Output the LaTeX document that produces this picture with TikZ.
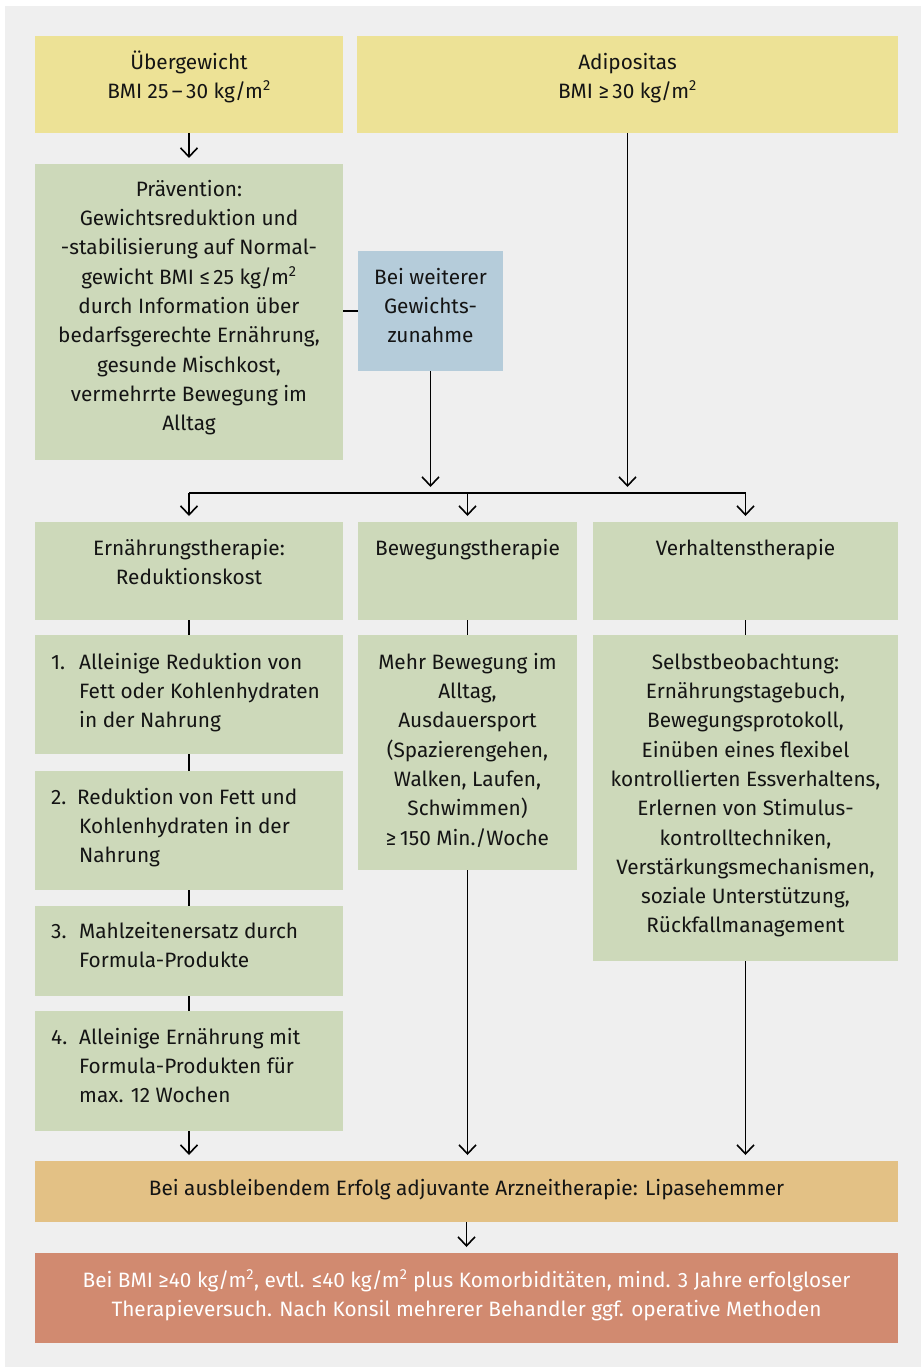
\documentclass[tikz,border=0pt]{standalone}
\usepackage{fontspec}
\setmainfont{Fira Sans}
\usetikzlibrary{arrows.meta}
\definecolor{bgc}{HTML}{EFEFEF}
\definecolor{yelc}{HTML}{EDE296}
\definecolor{grnc}{HTML}{CDD9BA}
\definecolor{bluc}{HTML}{B5CCDA}
\definecolor{orac}{HTML}{E3C185}
\definecolor{redc}{HTML}{D18A70}
\definecolor{txtc}{HTML}{141414}
\begin{document}
\begin{tikzpicture}[x=1pt,y=-1pt,
  box/.style={draw=none, inner sep=0pt, outer sep=0pt, anchor=north west},
  txt/.style={anchor=north, align=center, inner sep=0pt, text=txtc, font=\fontsize{20.8}{29.3}\selectfont},
  lst/.style={anchor=north west, inner sep=0pt, text=txtc, font=\fontsize{20.8}{29.3}\selectfont},
  conn/.style={line width=1.6pt, draw=black},
  arr/.style={conn, -{Straight Barb[length=9pt,width=17pt,line width=1.6pt]}}
]
\useasboundingbox (0,0) rectangle (921,1367);
\fill[white] (0,0) rectangle (921,1367);
\fill[bgc] (5,6) rectangle (921,1367);

% boxes
\node[box, fill=yelc, minimum width=308pt, minimum height=97pt] (ueb) at (35,36) {};
\node[box, fill=yelc, minimum width=541pt, minimum height=97pt] (adi) at (357,36) {};
\node[box, fill=grnc, minimum width=308pt, minimum height=296pt] (prae) at (35,164) {};
\node[box, fill=bluc, minimum width=145pt, minimum height=120pt] (blue) at (358,251) {};
\node[box, fill=grnc, minimum width=308pt, minimum height=98pt] (ern) at (35,522) {};
\node[box, fill=grnc, minimum width=219pt, minimum height=98pt] (bew) at (358,522) {};
\node[box, fill=grnc, minimum width=305pt, minimum height=98pt] (ver) at (593,522) {};
\node[box, fill=grnc, minimum width=308pt, minimum height=119pt] (r1) at (35,635) {};
\node[box, fill=grnc, minimum width=308pt, minimum height=119pt] (r2) at (35,771) {};
\node[box, fill=grnc, minimum width=308pt, minimum height=90pt] (r3) at (35,906) {};
\node[box, fill=grnc, minimum width=308pt, minimum height=120pt] (r4) at (35,1011) {};
\node[box, fill=grnc, minimum width=219pt, minimum height=235pt] (bewd) at (358,635) {};
\node[box, fill=grnc, minimum width=305pt, minimum height=326pt] (verd) at (593,635) {};
\node[box, fill=orac, minimum width=863pt, minimum height=61pt] (ora) at (35,1161) {};
\node[box, fill=redc, minimum width=863pt, minimum height=90pt] (red) at (35,1253) {};

% texts
\node[txt] (ueb-t) at (189,48.5) {\strut Übergewicht\\BMI 25\,–\,30 kg/m\textsuperscript{2}};
\node[txt] (adi-t) at (627.5,48.5) {\strut Adipositas\\BMI ≥\,30 kg/m\textsuperscript{2}};
\node[txt] (prae-t) at (189,175.5) {\strut Prävention:\\Gewichtsreduktion und\\-stabilisierung auf Normal-\\gewicht BMI ≤\,25 kg/m\textsuperscript{2}\\durch Information über\\bedarfsgerechte Ernährung,\\gesunde Mischkost,\\vermehrrte Bewegung im\\Alltag};
\node[txt] (blue-t) at (430.5,263.5) {\strut Bei weiterer\\Gewichts-\\zunahme};
\node[txt] (ern-t) at (189,534.5) {\strut Ernährungstherapie:\\Reduktionskost};
\node[txt] (bew-t) at (467.5,534.5) {\strut Bewegungstherapie};
\node[txt] (ver-t) at (745.5,534.5) {\strut Verhaltenstherapie};
\node[lst] (r1-t) at (51,648.5) {\begin{tabular}{@{}p{28pt}@{}l@{}}1. & Alleinige Reduktion von\\ & Fett oder Kohlenhydraten\\ & in der Nahrung\end{tabular}};
\node[lst] (r2-t) at (51,783.5) {\begin{tabular}{@{}p{26pt}@{}l@{}}2. & Reduktion von Fett und\\ & \hspace{2pt}Kohlenhydraten in der\\ & \hspace{2pt}Nahrung\end{tabular}};
\node[lst] (r3-t) at (51,917.5) {\begin{tabular}{@{}p{28pt}@{}l@{}}3. & Mahlzeitenersatz durch\\ & Formula-Produkte\end{tabular}};
\node[lst] (r4-t) at (51,1023.5) {\begin{tabular}{@{}p{28pt}@{}l@{}}4. & Alleinige Ernährung mit\\ & Formula-Produkten für\\ & max. 12 Wochen\end{tabular}};
\node[txt] (bewd-t) at (467.5,648.5) {\strut Mehr Bewegung im\\Alltag,\\Ausdauersport\\(Spazierengehen,\\Walken, Laufen,\\Schwimmen)\\≥\,150 Min./Woche};
\node[txt] (verd-t) at (745.5,648.5) {\strut Selbstbeobachtung:\\Ernährungstagebuch,\\Bewegungsprotokoll,\\Einüben eines flexibel\\kontrollierten Essverhaltens,\\Erlernen von Stimulus-\\kontrolltechniken,\\Verstärkungsmechanismen,\\soziale Unterstützung,\\Rückfallmanagement};
\node[txt] (ora-t) at (466.5,1174.5) {\strut Bei ausbleibendem Erfolg adjuvante Arzneitherapie: Lipasehemmer};
\node[txt, text=white] (red-t) at (466.5,1266.5) {\strut Bei BMI ≥40 kg/m\textsuperscript{2}, evtl. ≤40 kg/m\textsuperscript{2} plus Komorbiditäten, mind. 3 Jahre erfolgloser\\Therapieversuch. Nach Konsil mehrerer Behandler ggf. operative Methoden};

% connectors
\coordinate (hb) at (0,493);
\draw[arr, shorten >=6pt] (ueb.south) -- (prae.north);
\draw[conn] (blue.west) -- (blue.west -| prae.east);
\draw[arr, shorten >=6pt] (blue.south) -- (blue.south |- hb);
\draw[arr, shorten >=6pt] (adi.south) -- (adi.south |- hb);
\draw[conn] (ern.north |- hb) -- (ver.north |- hb);
\draw[arr, shorten >=6pt] (ern.north |- hb) -- (ern.north);
\draw[arr, shorten >=6pt] (bew.north |- hb) -- (bew.north);
\draw[arr, shorten >=6pt] (ver.north |- hb) -- (ver.north);
\draw[conn] (ern.south) -- (r1.north);
\draw[conn] (r1.south) -- (r2.north);
\draw[conn] (r2.south) -- (r3.north);
\draw[conn] (r3.south) -- (r4.north);
\draw[conn] (bew.south) -- (bewd.north);
\draw[conn] (ver.south) -- (verd.north);
\draw[arr, shorten >=6pt] (r4.south) -- (r4.south |- ora.north);
\draw[arr, shorten >=6pt] (bewd.south) -- (bewd.south |- ora.north);
\draw[arr, shorten >=6pt] (verd.south) -- (verd.south |- ora.north);
\draw[arr, shorten >=6pt] (ora.south) -- (red.north);
\end{tikzpicture}
\end{document}
